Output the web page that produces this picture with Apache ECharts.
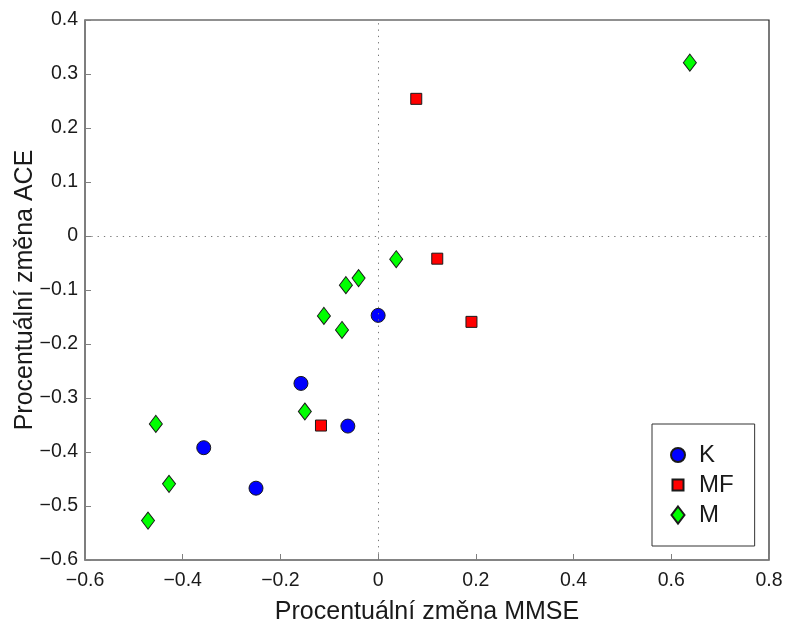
<!DOCTYPE html>
<html>
<head>
<meta charset="utf-8">
<script src="https://cdn.jsdelivr.net/npm/echarts@6/dist/echarts.min.js"></script>
<style>
  html, body { margin: 0; padding: 0; background: #fff; }
  #chart { width: 785px; height: 621px; }
</style>
</head>
<body>
<div id="chart"></div>
<script>
// Percentage change of MMSE (x) vs. percentage change of ACE (y)
const seriesNames = ['K', 'MF', 'M'];

const pointsK = [
  [0.000, -0.147],
  [-0.158, -0.273],
  [-0.062, -0.352],
  [-0.357, -0.392],
  [-0.250, -0.467]
];

const pointsMF = [
  [0.078, 0.254],
  [0.121, -0.042],
  [0.191, -0.159],
  [-0.117, -0.351]
];

const pointsM = [
  [0.638, 0.321],
  [0.037, -0.043],
  [-0.040, -0.078],
  [-0.066, -0.091],
  [-0.111, -0.148],
  [-0.074, -0.174],
  [-0.150, -0.325],
  [-0.455, -0.348],
  [-0.428, -0.459],
  [-0.471, -0.527]
];

const xTicks = { min: -0.6, max: 0.8, step: 0.2 };
const yTicks = { min: -0.6, max: 0.4, step: 0.1 };

const FONT = 'Liberation Sans, Arial, sans-serif';

function tickLabel(v) {
  if (Math.abs(v) < 1e-9) return '0';
  return v.toFixed(1).replace('-', '\u2212');
}

const axisCommon = {
  axisLine: { show: true, onZero: false, lineStyle: { color: '#808080', width: 1.5 } },
  axisTick: { show: true, inside: true, length: 6, lineStyle: { color: '#808080', width: 1 } },
  splitLine: { show: false },
  nameLocation: 'middle',
  nameMoveOverlap: false,
  nameTextStyle: { fontFamily: FONT, fontSize: 25, color: '#1a1a1a' }
};

const chart = echarts.init(document.getElementById('chart'), null, { renderer: 'canvas' });

const markerBorder = { borderColor: '#1a1a1a', borderWidth: 1, opacity: 1 };

chart.setOption({
  backgroundColor: '#ffffff',
  animation: false,
  grid: {
    left: 85, right: 16, top: 20, bottom: 61,
    containLabel: false, outerBoundsMode: 'none',
    show: true, borderColor: '#222', borderWidth: 1.2, backgroundColor: 'transparent'
  },
  xAxis: Object.assign({}, axisCommon, {
    type: 'value',
    min: xTicks.min, max: xTicks.max, interval: xTicks.step,
    name: 'Procentuální změna MMSE',
    nameGap: 40,
    axisLabel: { margin: 11, fontFamily: FONT, fontSize: 19.5, color: '#1a1a1a', formatter: tickLabel }
  }),
  yAxis: Object.assign({}, axisCommon, {
    type: 'value',
    min: yTicks.min, max: yTicks.max, interval: yTicks.step,
    name: 'Procentuální změna ACE',
    nameGap: 47,
    axisLabel: { margin: 7, fontFamily: FONT, fontSize: 19.5, color: '#1a1a1a', formatter: tickLabel }
  }),
  legend: {
    orient: 'vertical',
    left: 652, top: 424,
    padding: [19, 21, 19, 18],
    borderColor: '#333', borderWidth: 1,
    backgroundColor: '#fff',
    itemWidth: 14, itemHeight: 17, itemGap: 6,
    symbolKeepAspect: true,
    textStyle: { fontFamily: FONT, fontSize: 24, color: '#1a1a1a', lineHeight: 24, padding: [0, 0, 0, 9] },
    data: [
      { name: seriesNames[0], icon: 'circle' },
      { name: seriesNames[1], icon: 'path://M0,0M14,17M1.5,3L12.5,3L12.5,14L1.5,14Z' },
      { name: seriesNames[2], icon: 'path://M7,0L13.5,8.5L7,17L0.5,8.5Z' }
    ]
  },
  series: [
    {
      name: seriesNames[0], type: 'scatter', data: pointsK,
      symbol: 'circle', symbolSize: 14,
      itemStyle: Object.assign({ color: '#0000ff' }, markerBorder),
      markLine: {
        silent: true, symbol: 'none', label: { show: false },
        lineStyle: { color: '#777', width: 1, type: [1.3, 5] },
        data: [{ xAxis: 0 }, { yAxis: 0 }]
      },
      z: 3
    },
    {
      name: seriesNames[1], type: 'scatter', data: pointsMF,
      symbol: 'rect', symbolSize: 11,
      itemStyle: Object.assign({ color: '#ff0000' }, markerBorder),
      z: 3
    },
    {
      name: seriesNames[2], type: 'scatter', data: pointsM,
      symbol: 'diamond', symbolSize: [13, 17],
      itemStyle: Object.assign({ color: '#00ff00' }, markerBorder),
      z: 3
    }
  ]
});
</script>
</body>
</html>
